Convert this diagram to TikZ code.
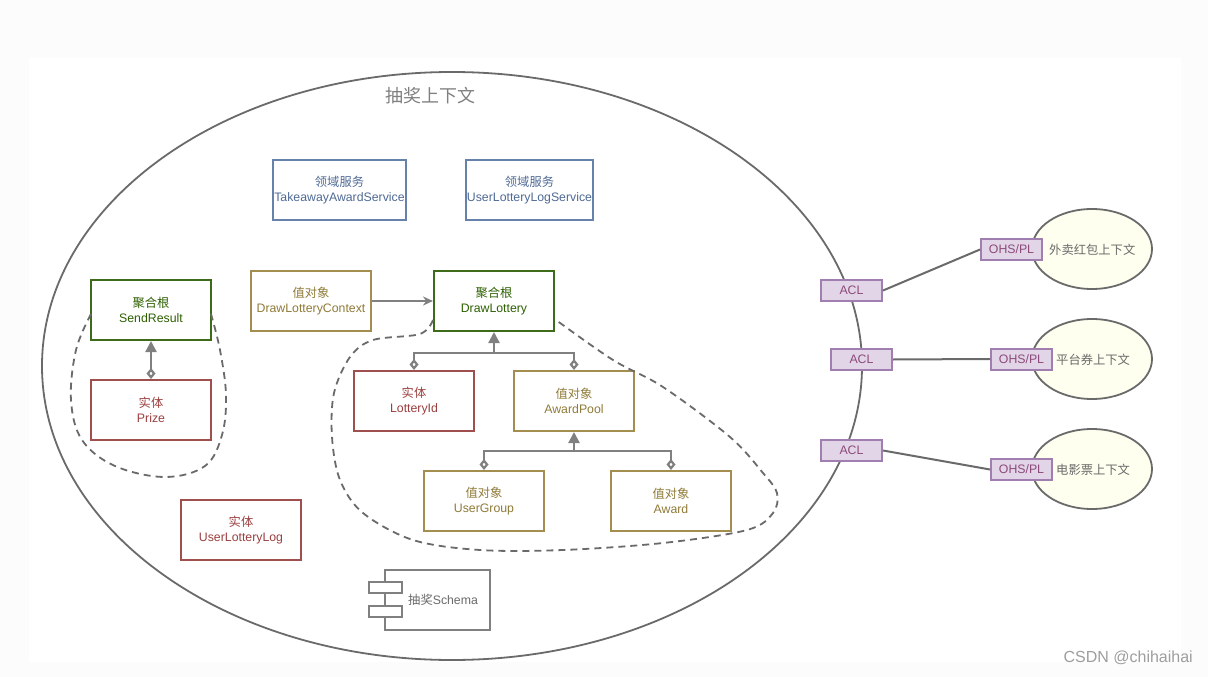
\documentclass[tikz,border=0pt]{standalone}
\usepackage{fontspec}
\setmainfont{Liberation Sans}
\newfontfamily\cjk{Noto Sans CJK SC}
\usetikzlibrary{arrows.meta,shapes.geometric}
\definecolor{bgout}{HTML}{FCFCFC}
\definecolor{blueln}{HTML}{6682AA}
\definecolor{bluetx}{HTML}{4F6A96}
\definecolor{goldln}{HTML}{A38D4F}
\definecolor{goldtx}{HTML}{8F7B38}
\definecolor{greenln}{HTML}{3D6B1A}
\definecolor{greentx}{HTML}{2D6000}
\definecolor{redln}{HTML}{A04F4F}
\definecolor{redtx}{HTML}{9B3F3F}
\definecolor{aclfill}{HTML}{E1D5E7}
\definecolor{aclln}{HTML}{A07EB0}
\definecolor{acltx}{HTML}{8C4A7A}
\definecolor{ctxfill}{HTML}{FFFFF0}
\definecolor{lineg}{HTML}{6A6A6A}
\definecolor{conng}{HTML}{808080}
\begin{document}
\begin{tikzpicture}[x=1pt,y=-1pt,
  box/.style={draw, fill=white, line width=2pt, minimum width=120pt, minimum height=60pt, inner sep=0pt, align=center, font=\fontsize{12.3}{15}\selectfont},
  bluebox/.style={box, draw=blueln, text=bluetx},
  goldbox/.style={box, draw=goldln, text=goldtx},
  greenbox/.style={box, draw=greenln, text=greentx},
  redbox/.style={box, draw=redln, text=redtx},
  aclbox/.style={draw=aclln, fill=aclfill, line width=2pt, minimum width=61pt, minimum height=21pt, inner sep=0pt, text=acltx, font=\fontsize{12.3}{13}\selectfont},
  ctx/.style={ellipse, draw=lineg, fill=ctxfill, line width=1.8pt, minimum width=120pt, minimum height=80pt, inner sep=0pt},
  conn/.style={draw=conng, line width=2.2pt},
  link/.style={draw=lineg, line width=2pt},
  dashline/.style={draw=lineg, line width=1.8pt, dash pattern=on 7pt off 5pt},
  aggr/.style={-{Triangle[width=11pt,length=11pt]}},
  diam/.style={{Diamond[open,width=9pt,length=11pt]}-},
  lbl/.style={text=lineg, font=\fontsize{12.3}{13}\selectfont, inner sep=0pt}
]
\useasboundingbox (0,0) rectangle (1208,677);
\fill[bgout] (0,0) rectangle (1208,677);
\fill[white] (29,58) rectangle (1181,662);

% main context ellipse
\node[ellipse, draw=lineg, line width=1.8pt, minimum width=820pt, minimum height=588pt, inner sep=0pt] (main) at (452,366) {};
\node[text=lineg!85, font=\cjk\fontsize{18}{20}\selectfont, inner sep=0pt] (title) at (430,96) {抽奖上下文};

% domain services
\node[bluebox, minimum width=133pt] (tas) at (339.5,190) {{\cjk 领域服务}\\TakeawayAwardService};
\node[bluebox, minimum width=127pt] (ulls) at (529.5,190) {{\cjk 领域服务}\\UserLotteryLogService};

% boxes
\node[goldbox] (dlc) at (311,301) {{\cjk 值对象}\\DrawLotteryContext};
\node[greenbox] (dl) at (494,301) {{\cjk 聚合根}\\DrawLottery};
\node[greenbox] (sr) at (151,310) {{\cjk 聚合根}\\SendResult};
\node[redbox] (prize) at (151,410) {{\cjk 实体}\\Prize};
\node[redbox] (lid) at (414,401) {{\cjk 实体}\\LotteryId};
\node[goldbox] (ap) at (574,401) {{\cjk 值对象}\\AwardPool};
\node[goldbox] (ug) at (484,501) {{\cjk 值对象}\\UserGroup};
\node[goldbox] (aw) at (671,501) {{\cjk 值对象}\\Award};
\node[redbox] (ull) at (241,530) {{\cjk 实体}\\UserLotteryLog};

% schema component
\node[draw=lineg!85, fill=white, line width=1.8pt, minimum width=105pt, minimum height=60pt, inner sep=0pt] (schema) at (437.5,600) {};
\node[draw=lineg!85, fill=white, line width=1.8pt, minimum width=33pt, minimum height=11pt, inner sep=0pt] (port1) at (385.5,587.5) {};
\node[draw=lineg!85, fill=white, line width=1.8pt, minimum width=33pt, minimum height=11pt, inner sep=0pt] (port2) at (385.5,611.5) {};
\node[lbl, anchor=west] (schemat) at (408,600) {{\cjk 抽奖}Schema};

% connectors
\draw[conn, -{Stealth[length=10pt,width=9pt]}] (dlc.east) -- (dl.west);
\draw[conn, {Diamond[open,width=9pt,length=11pt]}-{Triangle[width=11pt,length=11pt]}] (prize.north) -- (sr.south);
\coordinate (j1) at (494,353);
\coordinate (j2) at (574,451);
\draw[conn, diam] (lid.north) |- (j1);
\draw[conn, diam] (ap.north) |- (j1);
\draw[conn, aggr] (j1) -- (dl.south);
\draw[conn, diam] (ug.north) |- (j2);
\draw[conn, diam] (aw.north) |- (j2);
\draw[conn, aggr] (j2) -- (ap.south);

% dashed aggregate boundaries
\draw[dashline] plot[smooth, tension=0.6] coordinates {(91,314) (76,350) (71,400) (82,440) (115,466) (165,477) (205,466) (222,435) (226,395) (220,350) (211,314)};
\draw[dashline] plot[smooth, tension=0.55] coordinates {(433,320) (420,334) (373,340) (350,357) (334,393) (332,437) (340,480) (363,513) (413,540) (480,550) (563,550) (663,543) (747,530) (773,513) (777,493) (763,473) (730,437) (663,387) (613,360) (556,320)};

% external contexts
\node[ctx] (c1) at (1092,249) {};
\node[ctx] (c2) at (1092,359) {};
\node[ctx] (c3) at (1092,469) {};
\node[lbl, anchor=west, font=\cjk\fontsize{12.3}{13}\selectfont] (c1t) at (1049,250) {外卖红包上下文};
\node[lbl, anchor=west, font=\cjk\fontsize{12.3}{13}\selectfont] (c2t) at (1056,360) {平台券上下文};
\node[lbl, anchor=west, font=\cjk\fontsize{12.3}{13}\selectfont] (c3t) at (1056,470) {电影票上下文};

\node[aclbox] (o1) at (1011.5,249.5) {OHS/PL};
\node[aclbox] (o2) at (1021.5,359) {OHS/PL};
\node[aclbox] (o3) at (1021.5,469.5) {OHS/PL};
\node[aclbox] (a1) at (851.5,290.5) {ACL};
\node[aclbox] (a2) at (861.5,359.5) {ACL};
\node[aclbox] (a3) at (851.5,450.5) {ACL};

\draw[link] (a1.east) -- (o1.west);
\draw[link] (a2.east) -- (o2.west);
\draw[link] (a3.east) -- (o3.west);

% watermark
\node[anchor=east, text=black!38, font=\fontsize{16}{18}\selectfont, inner sep=0pt] (wm) at (1193,658) {CSDN @chihaihai};
\end{tikzpicture}
\end{document}
